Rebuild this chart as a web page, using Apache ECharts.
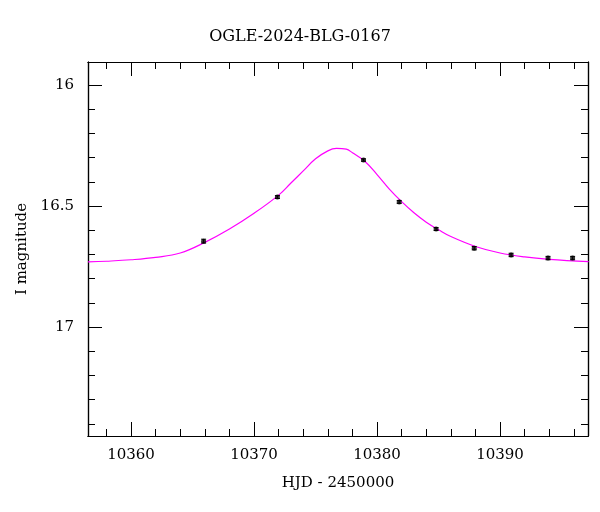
<!DOCTYPE html>
<html><head><meta charset="utf-8">
<script src="https://cdn.jsdelivr.net/npm/echarts@6/dist/echarts.min.js"></script>
<style>html,body{margin:0;background:#fff}#main{width:600px;height:512px}</style>
</head><body><div id="main"></div>
<script>
// observed points
var obsHjd = [10365.9, 10371.9, 10378.9, 10381.8, 10384.8, 10387.9, 10390.9, 10393.9, 10395.9];
var obsMag = [16.645, 16.463, 16.31, 16.483, 16.595, 16.674, 16.702, 16.715, 16.715];
var obsErr = [0.008, 0.006, 0.005, 0.006, 0.006, 0.007, 0.007, 0.007, 0.007];
// model curve
var modelHjd = [10356.5, 10358, 10360, 10362, 10364, 10366, 10368, 10370, 10372, 10373, 10374, 10375, 10376, 10376.7, 10377.5, 10378, 10379, 10380, 10381, 10382, 10383, 10384, 10385, 10386, 10388, 10390, 10392, 10394, 10397.2];
var modelMag = [16.731, 16.728, 16.722, 16.712, 16.694, 16.650, 16.595, 16.530, 16.455, 16.405, 16.355, 16.305, 16.272, 16.262, 16.265, 16.28, 16.315, 16.37, 16.43, 16.482, 16.528, 16.567, 16.598, 16.626, 16.667, 16.694, 16.71, 16.72, 16.73];
// tick values
var xMajor = [10360, 10370, 10380, 10390];
var xMinor = [10358, 10362, 10364, 10366, 10368, 10372, 10374, 10376, 10378, 10382, 10384, 10386, 10388, 10392, 10394, 10396];
var yMajor = [16, 16.5, 17];
var yMinor = [16.1, 16.2, 16.3, 16.4, 16.6, 16.7, 16.8, 16.9, 17.1, 17.2, 17.3, 17.4];

var font = 'DejaVu Serif';
var X0 = 10356.5, X1 = 10397.15, Y0 = 15.905, Y1 = 17.45;
var myChart = echarts.init(document.getElementById('main'));

function xAx(pos, ticks, len, labels) {
    return {type: 'value', min: X0, max: X1, position: pos, gridIndex: 0,
        axisLine: {show: true, lineStyle: {color: '#000', width: 1.2}},
        axisTick: {inside: true, length: len, customValues: ticks, lineStyle: {color: '#000'}},
        axisLabel: labels ? {customValues: ticks, fontFamily: font, fontSize: 15, color: '#000', margin: 12,
            formatter: function (v) { return String(v); }} : {show: false},
        splitLine: {show: false}};
}
function yAx(pos, ticks, len, labels) {
    return {type: 'value', inverse: true, min: Y0, max: Y1, position: pos, gridIndex: 0,
        axisLine: {show: true, lineStyle: {color: '#000', width: 1.2}},
        axisTick: {inside: true, length: len, customValues: ticks, lineStyle: {color: '#000'}},
        axisLabel: labels ? {customValues: ticks, fontFamily: font, fontSize: 15, color: '#000', margin: 14,
            formatter: function (v) { return String(v); }} : {show: false},
        splitLine: {show: false}};
}
var xb = xAx('bottom', xMajor, 14, true);
xb.name = 'HJD - 2450000'; xb.nameLocation = 'middle'; xb.nameGap = 40;
xb.nameTextStyle = {fontFamily: font, fontSize: 15, color: '#000'};
var yl = yAx('left', yMajor, 14, true);
yl.name = 'I magnitude'; yl.nameLocation = 'middle'; yl.nameGap = 50;
yl.nameTextStyle = {fontFamily: font, fontSize: 15, color: '#000'};

var option = {
    animation: false,
    title: {text: 'OGLE-2024-BLG-0167', left: 'center', top: 24,
        textStyle: {fontFamily: font, fontWeight: 'normal', fontSize: 16, color: '#000'}},
    grid: {left: 88, right: 12, top: 62, bottom: 76, containLabel: false, outerBoundsMode: 'none'},
    xAxis: [xb, xAx('top', xMajor, 14, false), xAx('bottom', xMinor, 7, false), xAx('top', xMinor, 7, false)],
    yAxis: [yl, yAx('right', yMajor, 14, false), yAx('left', yMinor, 7, false), yAx('right', yMinor, 7, false)],
    series: [
        {type: 'line', data: modelHjd.map(function (x, i) { return [x, modelMag[i]]; }),
            smooth: 0.4, showSymbol: false, lineStyle: {color: '#ff00ff', width: 1.2}, z: 2},
        {type: 'custom', z: 3,
            data: obsHjd.map(function (x, i) { return [x, obsMag[i] - obsErr[i], obsMag[i] + obsErr[i]]; }),
            renderItem: function (params, api) {
                var a = api.coord([api.value(0), api.value(1)]);
                var b = api.coord([api.value(0), api.value(2)]);
                var s = {stroke: '#000', lineWidth: 1};
                return {type: 'group', children: [
                    {type: 'line', shape: {x1: a[0], y1: a[1], x2: b[0], y2: b[1]}, style: s},
                    {type: 'line', shape: {x1: a[0] - 2.5, y1: a[1], x2: a[0] + 2.5, y2: a[1]}, style: s},
                    {type: 'line', shape: {x1: b[0] - 2.5, y1: b[1], x2: b[0] + 2.5, y2: b[1]}, style: s}
                ]};
            }},
        {type: 'scatter', data: obsHjd.map(function (x, i) { return [x, obsMag[i]]; }),
            symbolSize: 5, itemStyle: {color: '#000'}, z: 4}
    ]
};
myChart.setOption(option);
</script></body></html>
